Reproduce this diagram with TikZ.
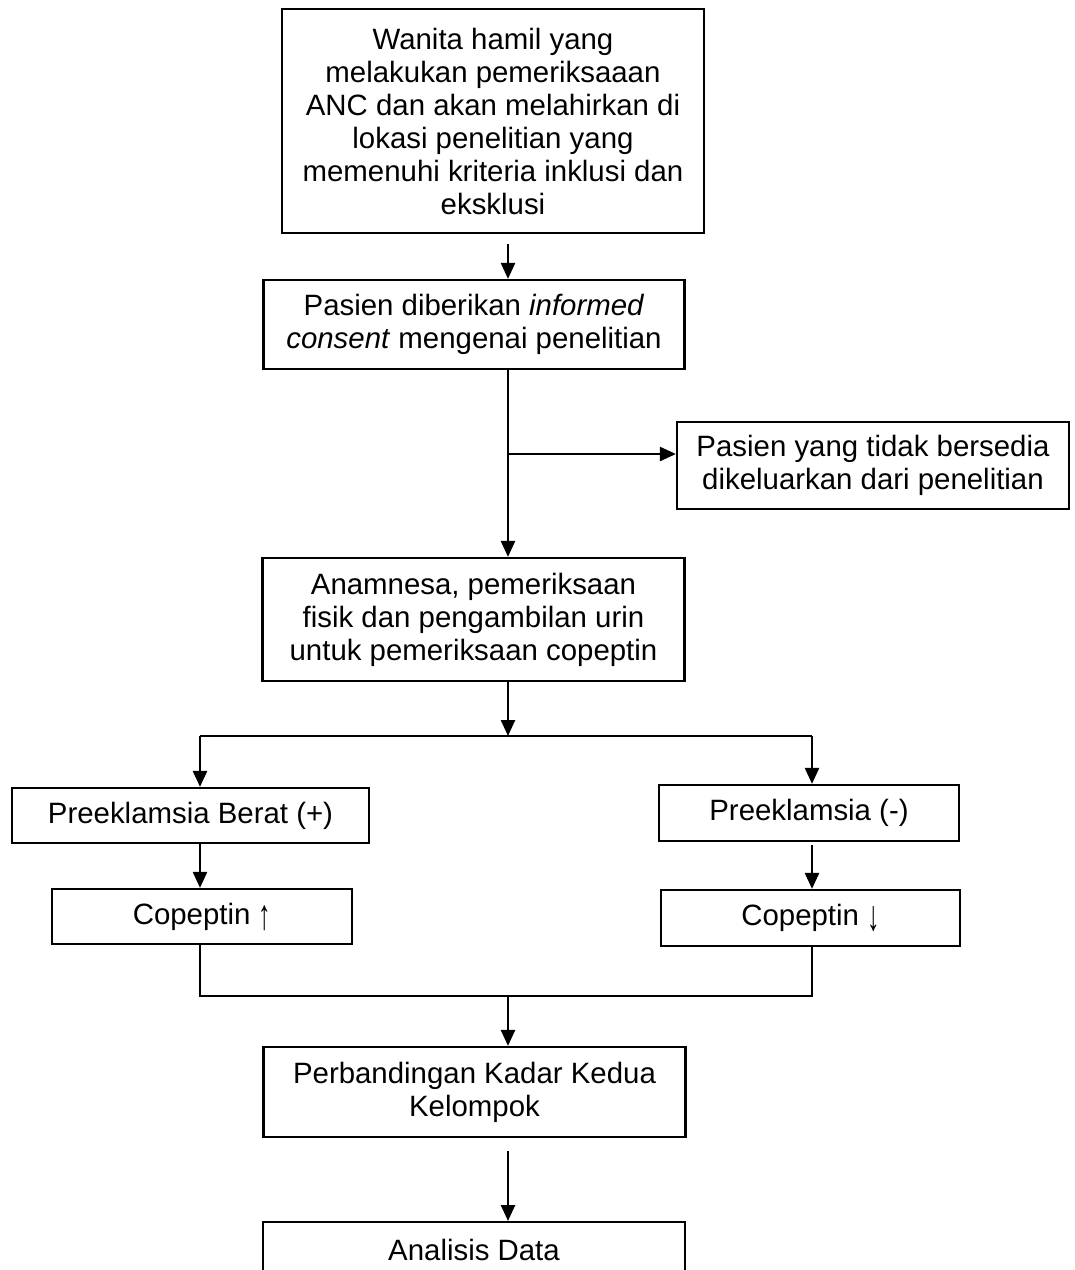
\documentclass[tikz,border=0pt]{standalone}
\usepackage{fontspec}
\setmainfont{Liberation Sans}
\usetikzlibrary{arrows.meta,calc}
% tall, slim arrow glyphs for the copeptin labels
\newcommand{\tallarrow}[1]{\raisebox{-0.17em}{\scalebox{0.85}[1.45]{#1}}}
\begin{document}
\begin{tikzpicture}[x=1pt,y=-1pt,
  box/.style={draw,line width=2.2pt,inner sep=0pt,align=center,
    font=\fontsize{29.4}{33}\selectfont},
  arr/.style={line width=2.5pt,-{Triangle[length=16pt,width=14pt]}},
  link/.style={line width=1.7pt}]
\useasboundingbox (0,0) rectangle (1075,1270);
\clip (0,0) rectangle (1075,1270);
\fill[white] (0,0) rectangle (1075,1270);

% boxes of the flow
\node[box,minimum width=422pt,minimum height=224pt] (criteria) at (493,121)
  {Wanita hamil yang\\melakukan pemeriksaaan\\ANC dan akan melahirkan di\\lokasi penelitian yang\\memenuhi kriteria inklusi dan\\eksklusi};
\node[box,minimum width=421pt,minimum height=89pt] (consent) at (474,324.5)
  {Pasien diberikan \textit{informed}\\\textit{consent} mengenai penelitian};
\node[box,minimum width=392pt,minimum height=87pt] (excl) at (873,465.5)
  {Pasien yang tidak bersedia\\dikeluarkan dari penelitian};
\node[box,minimum width=422pt,minimum height=123pt] (exam) at (473.5,619.5)
  {Anamnesa, pemeriksaan\\fisik dan pengambilan urin\\untuk pemeriksaan copeptin};
\node[box,minimum width=357pt,minimum height=55pt] (pe) at (190.5,815.5)
  {Preeklamsia Berat (+)};
\node[box,minimum width=300pt,minimum height=56pt] (pn) at (809,813)
  {Preeklamsia (-)};
\node[box,minimum width=300pt,minimum height=55pt] (cu) at (202,916.5)
  {Copeptin \tallarrow{↑}};
\node[box,minimum width=299pt,minimum height=56pt] (cd) at (810.5,918)
  {Copeptin \tallarrow{↓}};
\node[box,minimum width=422pt,minimum height=90pt] (cmp) at (474.5,1092)
  {Perbandingan Kadar Kedua\\Kelompok};
\node[box,minimum width=422pt,minimum height=56pt,anchor=north] (ana) at (474,1221)
  {Analisis Data};

% routing points
\coordinate (spine) at (508,0);
\coordinate (jn) at (508,454);
\coordinate (split) at (508,736);
\coordinate (sl) at (200,736);
\coordinate (sr) at (812,736);
\coordinate (ml) at (200,996);
\coordinate (mr) at (812,996);
\coordinate (mc) at (508,996);

% connectors
\draw[arr] ($(criteria.south -| spine)+(0,10)$) -- (consent.north -| spine);
\draw[arr] (consent.south -| spine) -- (exam.north -| spine);
\draw[arr] (jn) -- (excl.west |- jn);
\draw[arr] (exam.south -| spine) -- (split);
\draw[link,line width=2.4pt] (sl) -- (sr);
\draw[arr] (sl) -- (pe.north -| sl);
\draw[arr] (sr) -- (pn.north -| sr);
\draw[arr] (pe.south -| sl) -- (cu.north -| sl);
\draw[arr] ($(pn.south -| sr)+(0,3)$) -- (cd.north -| sr);
\draw[link] (cu.south -| ml) -- (ml) -- (mr) -- (cd.south -| mr);
\draw[arr] (mc) -- (cmp.north -| spine);
\draw[arr] ($(cmp.south -| spine)+(0,13)$) -- (ana.north -| spine);
\end{tikzpicture}
\end{document}
